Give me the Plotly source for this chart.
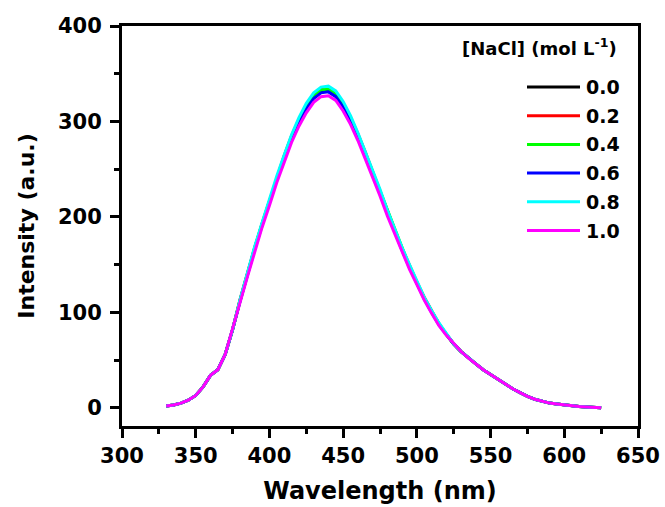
import plotly.graph_objects as go

wavelength = [330, 335, 340, 345, 350, 355, 360, 365, 370, 375,
              380, 385, 390, 395, 400, 405, 410, 415, 420, 425,
              430, 435, 440, 445, 450, 455, 460, 465, 470, 475,
              480, 485, 490, 495, 500, 505, 510, 515, 520, 525,
              530, 535, 540, 545, 550, 555, 560, 565, 570, 575,
              580, 585, 590, 595, 600, 605, 610, 615, 620, 625]

head = [2, 3, 5, 8, 13, 22, 34, 40, 56, 82]
tail = [67, 59, 52, 46, 40, 35, 30, 25, 20, 16, 12, 9, 7, 5, 4, 3, 2, 1.5, 1, 0.5, 0]

i_00 = head + [112, 140, 167, 192, 216, 240, 262, 283, 300, 315, 326, 332, 333, 328, 317, 302, 285, 266, 246, 226, 205, 185, 166, 148, 131, 115, 101, 88, 77] + tail
i_02 = head + [113, 141, 168, 193, 217, 241, 264, 285, 302, 317, 328, 334, 335, 330, 319, 304, 287, 268, 247, 227, 206, 186, 167, 149, 132, 116, 102, 88, 77] + tail
i_04 = head + [112, 140, 167, 193, 217, 241, 263, 284, 301, 316, 327, 333, 334, 329, 318, 303, 286, 267, 247, 227, 206, 186, 166, 148, 131, 115, 101, 88, 77] + tail
i_06 = head + [111, 139, 166, 191, 215, 239, 260, 281, 298, 313, 324, 330, 331, 326, 315, 300, 283, 264, 245, 225, 204, 184, 165, 147, 130, 114, 100, 87, 77] + tail
i_08 = head + [113, 142, 169, 194, 219, 243, 265, 286, 304, 319, 330, 336, 337, 332, 321, 306, 288, 269, 249, 229, 207, 187, 168, 150, 133, 116, 102, 89, 78] + tail
i_10 = head + [110, 137, 164, 189, 212, 236, 257, 278, 295, 309, 320, 326, 327, 322, 311, 297, 280, 261, 242, 222, 201, 182, 163, 145, 129, 113, 99, 86, 76] + tail

concentrations = ["0.0", "0.2", "0.4", "0.6", "0.8", "1.0"]
series = [i_00, i_02, i_04, i_06, i_08, i_10]
colors = ["#000000", "#ff0000", "#00ff00", "#0000ff", "#00ffff", "#ff00ff"]

x_ticks = [300, 350, 400, 450, 500, 550, 600, 650]
y_ticks = [0, 100, 200, 300, 400]

FONT = "DejaVu Sans"

fig = go.Figure()
for name, ys, c in zip(concentrations, series, colors):
    fig.add_trace(go.Scatter(x=wavelength, y=ys, mode="lines", name=name,
                             line=dict(color=c, width=3), showlegend=False))

# manual legend (decoration)
L, T, W, H = 122, 26, 516, 400
def px2paper(px, py):
    return (px - L) / W, (T + H - py) / H

tx, ty = px2paper(619, 47)
fig.add_annotation(x=tx, y=ty, xref="paper", yref="paper", xanchor="right", yanchor="middle",
                   text="[NaCl] (mol L<sup>-1</sup>)", showarrow=False,
                   font=dict(family=FONT, size=18, color="black", weight="bold"))
for k, (name, c) in enumerate(zip(concentrations, colors)):
    py = 87 + k * 28.7
    x0, y0 = px2paper(527, py)
    x1, _ = px2paper(580, py)
    fig.add_shape(type="line", xref="paper", yref="paper", x0=x0, x1=x1, y0=y0, y1=y0,
                  line=dict(color=c, width=3))
    lx, _ = px2paper(584, py)
    fig.add_annotation(x=lx, y=y0, xref="paper", yref="paper", xanchor="left", yanchor="middle",
                       text=name, showarrow=False,
                       font=dict(family=FONT, size=19, color="black", weight="bold"))

axis_common = dict(showline=True, linewidth=3, linecolor="black", mirror=True,
                   ticks="outside", tickwidth=2.5, ticklen=9, tickcolor="black",
                   showgrid=False, zeroline=False, automargin=False,
                   tickfont=dict(family=FONT, size=21, color="black", weight="bold"))

fig.update_xaxes(range=[300, 650], tickvals=x_ticks, **axis_common,
                 minor=dict(ticks="outside", ticklen=5, tickwidth=2.5, tickcolor="black", dtick=25, tick0=300),
                 title=dict(text="Wavelength (nm)", standoff=15,
                            font=dict(family=FONT, size=24, color="black", weight="bold")))
fig.update_yaxes(range=[-19, 400], tickvals=y_ticks, **axis_common,
                 minor=dict(ticks="outside", ticklen=5, tickwidth=2.5, tickcolor="black", dtick=50, tick0=0),
                 ticklabelstandoff=4,
                 title=dict(text="Intensity (a.u.)", standoff=18,
                            font=dict(family=FONT, size=22, color="black", weight="bold")))

fig.update_layout(width=665, height=507, margin=dict(l=122, r=27, t=26, b=81),
                  plot_bgcolor="white", paper_bgcolor="white")

fig.write_html("out.html")
